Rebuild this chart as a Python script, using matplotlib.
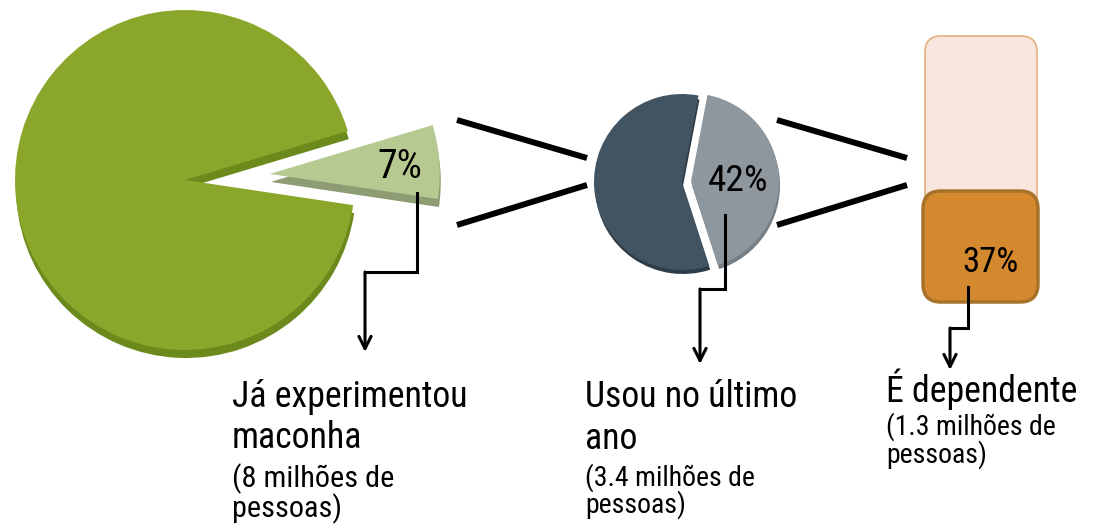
import matplotlib
matplotlib.use('Agg')
import matplotlib.pyplot as plt
from matplotlib import font_manager
from matplotlib.font_manager import FontProperties
from matplotlib.patches import FancyBboxPatch

# dados
experimentou_pct = [7, 93]      # fatia destacada / resto
ultimo_ano_pct = [42, 58]
dependente_pct = 37
rotulos_pct = ['7%', '42%', '37%']
titulos = [['Já experimentou', 'maconha'], ['Usou no último', 'ano'], ['É dependente']]
subtitulos = [['(8 milhões de', 'pessoas)'], ['(3.4 milhões de', 'pessoas)'], ['(1.3 milhões de', 'pessoas)']]

W, H = 1101, 529


def py(y):
    # coordenada em pixels (de cima) -> coordenada do eixo
    return H - y


fig = plt.figure(figsize=(W / 100, H / 100), dpi=100)
ax = fig.add_axes([0, 0, 1, 1])

# o original usa Arial Narrow: escolhe a fonte sans mais estreita instalada
# e ajusta o tamanho para "Já experimentou" ter ~235 px de largura
renderer = fig.canvas.get_renderer()
familias = ['Liberation Sans Narrow', 'Arial Narrow', 'Roboto Condensed', 'Open Sans Condensed',
            'Noto Sans', 'DejaVu Sans', 'Liberation Sans', 'Roboto', 'Open Sans', 'Lato', 'Inter']
melhor = None
for f in font_manager.fontManager.ttflist:
    if f.name not in familias or f.style != 'normal' or f.weight not in (400, 'normal', 'regular'):
        continue
    try:
        fp = FontProperties(fname=f.fname, size=20)
        w, h, d = renderer.get_text_width_height_descent('Já experimentou', fp, ismath=False)
    except Exception:
        continue
    if melhor is None or w < melhor[1]:
        melhor = (f.fname, w)
arquivo = melhor[0]
k = (235 / melhor[1] * 20) / 27.8


def fonte(tam):
    return FontProperties(fname=arquivo, size=tam * k)


# pizza grande (com "sombra" para efeito 3D)
ax.pie(experimentou_pct, colors=['#8d9c72', '#6c8a1c'], startangle=-8.5, explode=[85, 0],
       radius=170, center=(186, py(188)), wedgeprops=dict(linewidth=0))
ax.pie(experimentou_pct, colors=['#b6c990', '#8aa72c'], startangle=-8.5, explode=[85, 0],
       radius=170, center=(185, py(180)), wedgeprops=dict(linewidth=0))

# pizza do meio
ax.pie(ultimo_ano_pct, colors=['#767e85', '#2e3c47'], startangle=-72, explode=[9, 0],
       radius=88, center=(683, py(186)), wedgeprops=dict(linewidth=0))
ax.pie(ultimo_ano_pct, colors=['#8f979e', '#425462'], startangle=-72, explode=[9, 0],
       radius=88, center=(682, py(182)), wedgeprops=dict(linewidth=0))

# barra "dependente"
base = 302
ax.add_patch(FancyBboxPatch((925, py(base - 8)), 112, 258, boxstyle='round,pad=0,rounding_size=16',
                            fc='#f8e6de', ec='#e2b07c', lw=1.2))
altura = dependente_pct * 3.0
ax.add_patch(FancyBboxPatch((923, py(base)), 115, altura, boxstyle='round,pad=0,rounding_size=18',
                            fc='#d4892f', ec='#a8722b', lw=2.5))

# conectores ">"
for x0, x1 in [(457, 587), (777, 907)]:
    ax.plot([x0, x1], [py(120), py(158)], color='black', lw=4.3, solid_capstyle='butt')
    ax.plot([x0, x1], [py(225), py(185)], color='black', lw=4.3, solid_capstyle='butt')

# rótulos de porcentagem
ax.text(400, py(167), rotulos_pct[0], fontproperties=fonte(31), ha='center', va='center')
ax.text(738, py(181), rotulos_pct[1], fontproperties=fonte(29), ha='center', va='center')
ax.text(990, py(263), rotulos_pct[2], fontproperties=fonte(27), ha='center', va='center')

# setas em degrau
setas = [
    [(417, 193), (417, 272), (365, 272), (365, 352)],
    [(725, 215), (725, 289), (700, 289), (700, 364)],
    [(968, 287), (968, 328), (950, 328), (950, 370)],
]
for s in setas:
    xs = [p[0] for p in s[:-1]]
    ys = [py(p[1]) for p in s[:-1]]
    ax.plot(xs, ys, color='black', lw=2.2, solid_joinstyle='miter')
    ax.annotate('', xy=(s[-1][0], py(s[-1][1])), xytext=(s[-2][0], py(s[-2][1])),
                arrowprops=dict(arrowstyle='->', lw=2.2, color='black', mutation_scale=22,
                                shrinkA=0, shrinkB=0))

# textos
colunas_x = [232, 585, 886]
base_titulo = [[407, 448], [407, 449], [402]]
base_sub = [[487, 517], [486, 513], [435, 463]]
tam_sub = [23.5, 21.5, 21.5]
for i in range(3):
    for txt, yb in zip(titulos[i], base_titulo[i]):
        ax.text(colunas_x[i], py(yb), txt, fontproperties=fonte(27.8), ha='left', va='baseline')
    for txt, yb in zip(subtitulos[i], base_sub[i]):
        ax.text(colunas_x[i], py(yb), txt, fontproperties=fonte(tam_sub[i]), ha='left', va='baseline')

ax.set_xlim(0, W)
ax.set_ylim(0, H)
ax.set_aspect('equal')
ax.axis('off')

fig.savefig('out.png', dpi=100)
